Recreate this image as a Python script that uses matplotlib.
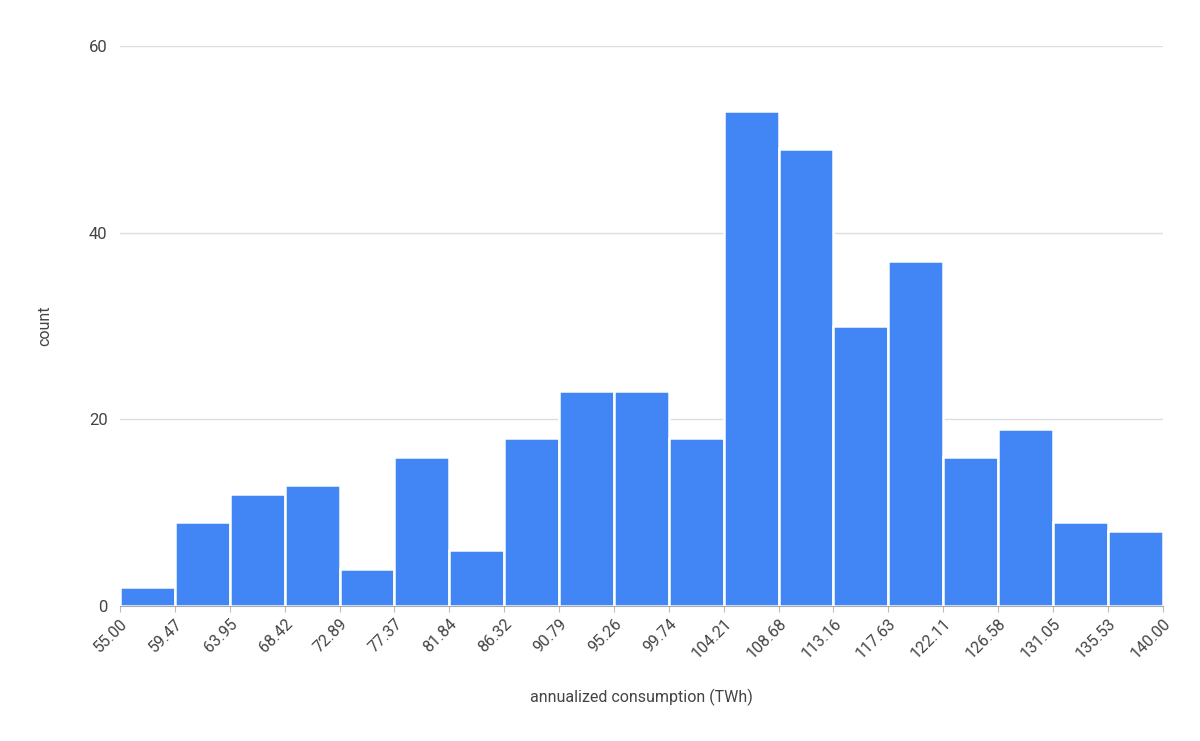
import numpy as np
import matplotlib.pyplot as plt

# histogram of annualized consumption
counts = [2, 9, 12, 13, 4, 16, 6, 18, 23, 23, 18, 53, 49, 30, 37, 16, 19, 9, 8]
range_min = 55.0
range_max = 140.0

BAR_COLOR = "#4285F4"
TEXT_COLOR = "#444444"

plt.rcParams['font.family'] = ['Roboto', 'DejaVu Sans']

edges = np.linspace(range_min, range_max, len(counts) + 1)
width = edges[1] - edges[0]

fig = plt.figure(figsize=(12, 7.41), dpi=100)
ax = fig.add_axes([0.1, 0.182, 0.869, 0.756])

ax.bar(edges[:-1], counts, width=width, align='edge', color=BAR_COLOR,
       edgecolor='white', linewidth=1.8, zorder=3)

ax.set_xlim(range_min, range_max)
ax.set_ylim(0, 60)
ax.set_yticks([0, 20, 40, 60])
ax.set_xticks(edges)
ax.set_xticklabels([f"{e:.2f}" for e in edges], rotation=45, ha='right',
                   rotation_mode='anchor', fontsize=11.5, color=TEXT_COLOR)
ax.tick_params(axis='y', labelsize=12, labelcolor=TEXT_COLOR, length=0, pad=9)
ax.tick_params(axis='x', length=4, color='#bbbbbb', pad=3)

ax.grid(axis='y', color='#dddddd', linewidth=1, zorder=0)
for s in ['top', 'right', 'left']:
    ax.spines[s].set_visible(False)
ax.spines['bottom'].set_color('#aaaaaa')
ax.spines['bottom'].set_zorder(4)

ax.set_ylabel("count", fontsize=11.5, color=TEXT_COLOR, labelpad=26)
ax.set_xlabel("annualized consumption (TWh)", fontsize=11.5, color=TEXT_COLOR, labelpad=20)

fig.savefig("out.png", dpi=100, facecolor='white')
